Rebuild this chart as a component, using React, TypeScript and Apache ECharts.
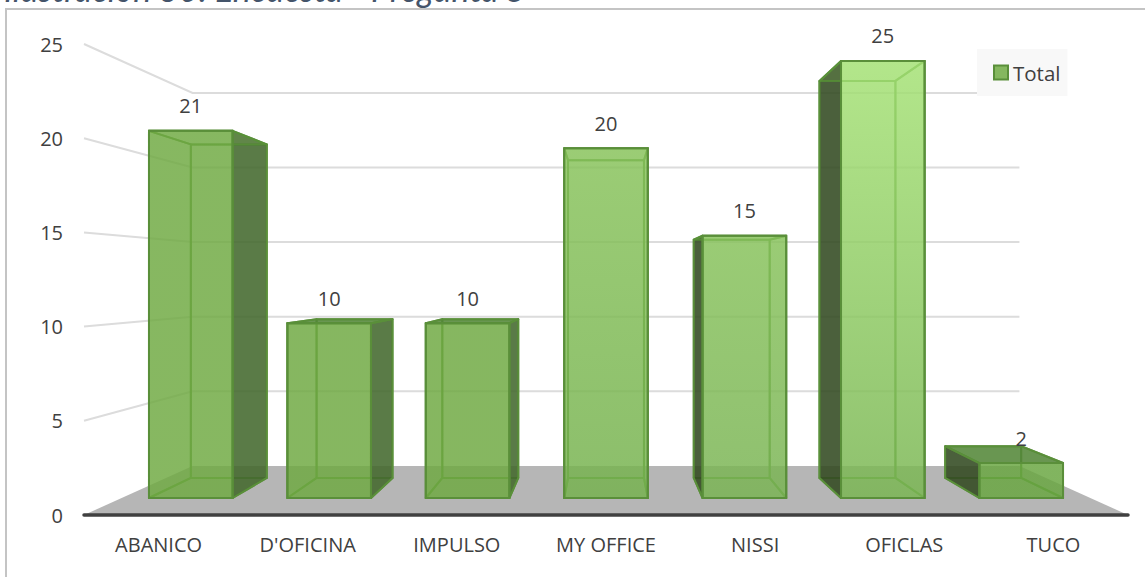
import React, { useEffect, useRef } from "react";
import * as echarts from "echarts";

const titleText = "Ilustración 30: Encuesta - Pregunta 5";
const categories = ["ABANICO", "D'OFICINA", "IMPULSO", "MY OFFICE", "NISSI", "OFICLAS", "TUCO"];
const seriesName = "Total";
const values = [21, 10, 10, 20, 15, 25, 2];
const gridTicks = [5, 10, 15, 20, 25];
const faceTop = ["#70aa43", "#6fa942", "#6fa942", "#89c45c", "#88c35c", "#a7e477", "#69a641"];
const faceBottom = ["#70aa43", "#6fa942", "#6fa942", "#76b24f", "#7ab454", "#7ab653", "#69a641"];

const FONT = "'Open Sans', sans-serif";
const TEXT = "#404040";
const EDGE = "#5a8f3a";
const VP: [number, number] = [606, 279];
const S_FRONT = 0.928;
const S_BACK = 0.843;
const S_WALL = 0.792;
const BAR_RATIO = 0.604;

const project = (p: number[], s: number): number[] => [
  VP[0] + (p[0] - VP[0]) * s,
  VP[1] + (p[1] - VP[1]) * s,
];

const renderWalls = (params: any, api: any) => {
  const band = api.size([1, 0])[0];
  const v = api.value(1);
  const left = api.coord([0, v]);
  const right = api.coord([categories.length - 1, v]);
  const a = [left[0] - band / 2, left[1]];
  const b = project(a, S_WALL);
  const c = project([right[0] + band / 2, right[1]], S_WALL);
  return {
    type: "polyline",
    shape: { points: [a, b, c] },
    style: { fill: "none", stroke: "#dcdcdc", lineWidth: 2 },
  };
};

const renderFloor = (params: any, api: any) => {
  const band = api.size([1, 0])[0];
  const left = api.coord([0, 0]);
  const right = api.coord([categories.length - 1, 0]);
  const a = [left[0] - band / 2, left[1]];
  const d = [right[0] + band / 2, right[1]];
  return {
    type: "polygon",
    shape: { points: [a, project(a, S_WALL), project(d, S_WALL), d] },
    style: { fill: "#b6b6b6" },
  };
};

const renderBar = (params: any, api: any) => {
  const i = params.dataIndex;
  const v = api.value(1);
  const base = api.coord([i, 0]);
  const top = api.coord([i, v]);
  const half = (api.size([1, 0])[0] * BAR_RATIO) / 2;
  const corner = (x: number, y: number, s: number) => project([x, y], s);
  const xl = base[0] - half;
  const xr = base[0] + half;
  const fbl = corner(xl, base[1], S_FRONT);
  const fbr = corner(xr, base[1], S_FRONT);
  const ftl = corner(xl, top[1], S_FRONT);
  const ftr = corner(xr, top[1], S_FRONT);
  const bbl = corner(xl, base[1], S_BACK);
  const bbr = corner(xr, base[1], S_BACK);
  const btl = corner(xl, top[1], S_BACK);
  const btr = corner(xr, top[1], S_BACK);

  const face = (points: number[][], fill: any, stroke = EDGE) => ({
    type: "polygon",
    shape: { points },
    style: { fill, stroke, lineWidth: 2, lineJoin: "round" },
  });
  const innerFill = "rgba(110,169,65,0.2)";
  const hiddenEdge = "rgba(88,145,56,0.85)";
  const rightOutside = btr[0] > ftr[0];
  const leftOutside = btl[0] < ftl[0];
  const topOutside = ftl[1] > btl[1];
  const sideFill = rightOutside ? "rgba(68,104,46,0.86)" : "rgba(50,72,34,0.86)";
  const front = face([fbl, fbr, ftr, ftl], {
    type: "linear",
    x: 0,
    y: 0,
    x2: 0,
    y2: 1,
    colorStops: [
      { offset: 0, color: faceTop[i] },
      { offset: 1, color: faceBottom[i] },
    ],
    global: false,
  });
  (front.style as any).opacity = 0.8;
  const children: any[] = [
    face([bbl, bbr, btr, btl], innerFill, hiddenEdge),
    face([fbl, fbr, bbr, bbl], innerFill, hiddenEdge),
    face([fbl, ftl, btl, bbl], leftOutside ? sideFill : innerFill, leftOutside ? EDGE : hiddenEdge),
    face([fbr, ftr, btr, bbr], rightOutside ? sideFill : innerFill, rightOutside ? EDGE : hiddenEdge),
    face([ftl, ftr, btr, btl], topOutside ? "rgba(84,134,56,0.85)" : innerFill, topOutside ? EDGE : hiddenEdge),
    front,
    {
      type: "polygon",
      shape: { points: [fbl, fbr, ftr, ftl] },
      style: { fill: "none", stroke: EDGE, lineWidth: 2 },
    },
    {
      type: "text",
      x: (ftl[0] + ftr[0]) / 2,
      y: ftl[1] - 25,
      style: {
        text: String(v),
        fill: TEXT,
        font: `20px ${FONT}`,
        align: "center",
        verticalAlign: "middle",
      },
    },
  ];
  return { type: "group", children };
};

export default function App() {
  const ref = useRef<HTMLDivElement>(null);
  useEffect(() => {
    if (!ref.current) return;
    const chart = echarts.init(ref.current, undefined, { renderer: "svg" });
    chart.setOption({
      animation: false,
      backgroundColor: "#ffffff",
      title: {
        text: titleText,
        left: 4,
        top: -29,
        padding: 0,
        textStyle: {
          fontFamily: "Lato, sans-serif",
          fontStyle: "italic",
          fontWeight: "normal",
          fontSize: 34,
          color: "#44546a",
        },
      },
      grid: { left: 84, right: 17, top: 44, bottom: 62 },
      xAxis: {
        type: "category",
        data: categories,
        z: 10,
        axisTick: { show: false },
        axisLine: { lineStyle: { color: "#404040", width: 3.5, cap: "round" } },
        axisLabel: { color: TEXT, fontFamily: FONT, fontSize: 20, margin: 19 },
      },
      yAxis: {
        type: "value",
        min: 0,
        max: 25,
        interval: 5,
        splitLine: { show: false },
        axisLine: { show: false },
        axisTick: { show: false },
        axisLabel: { color: TEXT, fontFamily: FONT, fontSize: 20, margin: 21 },
      },
      legend: {
        left: 977,
        top: 49,
        padding: [13, 7, 13, 16],
        backgroundColor: "#f8f8f8",
        itemWidth: 14,
        itemHeight: 14,
        itemGap: 5,
        textStyle: { color: TEXT, fontFamily: FONT, fontSize: 20.5 },
        data: [
          {
            name: seriesName,
            icon: "rect",
            itemStyle: { color: "#85b75f", borderColor: EDGE, borderWidth: 2 },
          },
        ],
      },
      graphic: [
        {
          type: "polyline",
          silent: true,
          shape: { points: [[6, 577], [6, 9], [1145, 9]] },
          style: { fill: "none", stroke: "#c4c4c4", lineWidth: 2 },
        },
      ],
      series: [
        {
          type: "custom",
          name: "walls",
          renderItem: renderWalls,
          data: gridTicks.map((t) => [0, t]),
          z: 1,
          silent: true,
        },
        {
          type: "custom",
          name: "floor",
          renderItem: renderFloor,
          data: [[0, 0]],
          z: 1,
          silent: true,
        },
        {
          type: "custom",
          name: seriesName,
          renderItem: renderBar,
          data: values.map((v, i) => [i, v]),
          encode: { x: 0, y: 1 },
          itemStyle: { color: "#85b75f" },
          z: 2,
        },
      ],
    });
    return () => chart.dispose();
  }, []);
  return <div ref={ref} style={{ position: "fixed", left: 0, top: 0, width: 1145, height: 577 }} />;
}
